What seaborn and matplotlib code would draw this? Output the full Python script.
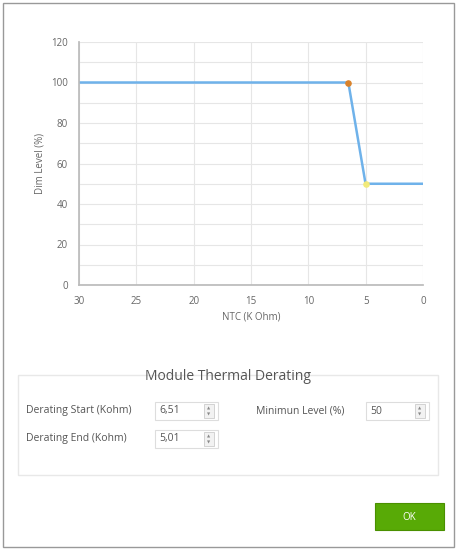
import numpy as np
import pandas as pd
import matplotlib
matplotlib.use("Agg")
import matplotlib.pyplot as plt
from matplotlib.patches import Rectangle
import seaborn as sns

ntc = [30, 6.51, 5.01, 0]
dim_level = [100, 100, 50, 50]
derating_start = "6,51"
derating_end = "5,01"
min_level = "50"

sns.set_theme(style="white")
plt.rcParams["font.family"] = ["Open Sans", "DejaVu Sans"]

W, H = 457, 550
fig = plt.figure(figsize=(W / 100, H / 100), dpi=100)
fig.patch.set_facecolor("white")

def fx(px): return px / W
def fy(py): return 1 - py / H

ax = fig.add_axes([fx(79), fy(285), fx(423) - fx(79), fy(42) - fy(285)])
df = pd.DataFrame({"ntc": ntc, "dim": dim_level})
sns.lineplot(data=df, x="ntc", y="dim", ax=ax, color="#6fb2ea", lw=1.8)
ax.scatter(ntc[1], dim_level[1], s=14, color="#d9822b", zorder=5)
ax.scatter(ntc[2], dim_level[2], s=14, color="#f2ea7a", zorder=5)
ax.set_xlim(30, 0)
ax.set_ylim(0, 120)
ax.set_xticks(range(30, -1, -5))
ax.set_yticks(range(0, 121, 20))
ax.set_yticks(range(10, 121, 20), minor=True)
ax.grid(True, which="both", color="#e6e6e6", lw=0.8)
for s in ["top", "right"]:
    ax.spines[s].set_visible(False)
for s in ["left", "bottom"]:
    ax.spines[s].set_color("#bbbbbb")
ax.tick_params(labelsize=7, colors="#666666", pad=2)
ax.set_xlabel("NTC (K Ohm)", fontsize=7, color="#666666", labelpad=3)
ax.set_ylabel("Dim Level (%)", fontsize=7, color="#666666", labelpad=4)

# window and panel decorations
fig.add_artist(Rectangle((fx(3), fy(547)), fx(454) - fx(3), fy(3) - fy(547),
                         transform=fig.transFigure, fill=False, ec="#999999", lw=1))
fig.add_artist(Rectangle((fx(18), fy(475)), fx(438) - fx(18), fy(375) - fy(475),
                         transform=fig.transFigure, fill=False, ec="#e8e8e8", lw=1))
fig.text(fx(228), fy(377), "Module Thermal Derating", ha="center", va="center",
         fontsize=10, color="#555555")

txt = dict(fontsize=7.5, color="#555555", va="center")
fig.text(fx(26), fy(411), "Derating Start (Kohm)", **txt)
fig.text(fx(26), fy(439), "Derating End (Kohm)", **txt)
fig.text(fx(256), fy(411), "Minimun Level (%)", **txt)
for x0, y0, val in [(155, 411, derating_start), (155, 439, derating_end), (366, 411, min_level)]:
    fig.add_artist(Rectangle((fx(x0), fy(y0 + 9)), fx(63), fy(0) - fy(18),
                             transform=fig.transFigure, fill=False, ec="#dddddd", lw=0.8))
    fig.add_artist(Rectangle((fx(x0 + 49), fy(y0 + 7)), fx(10), fy(0) - fy(14),
                             transform=fig.transFigure, fc="#f2f2f2", ec="#cccccc", lw=0.6))
    fig.text(fx(x0 + 54), fy(y0 - 3), "▲", fontsize=3, color="#888888", ha="center", va="center")
    fig.text(fx(x0 + 54), fy(y0 + 3), "▼", fontsize=3, color="#888888", ha="center", va="center")
    fig.text(fx(x0 + 4), fy(y0), val, **txt)

fig.add_artist(Rectangle((fx(375), fy(530)), fx(69), fy(0) - fy(27),
                         transform=fig.transFigure, fc="#58aa06", ec="#4a9000", lw=0.8))
fig.text(fx(409), fy(517), "OK", fontsize=7, color="white", ha="center", va="center")

fig.savefig("out.png", dpi=100)
